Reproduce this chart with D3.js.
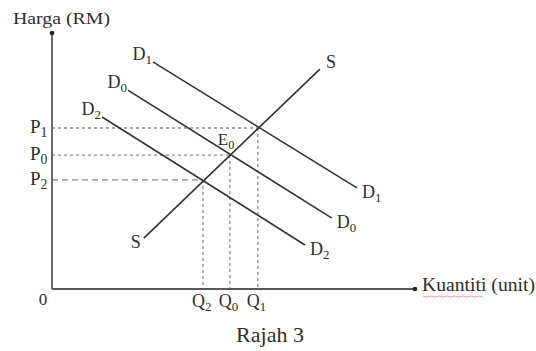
<!DOCTYPE html>
<html><head><meta charset="utf-8">
<script src="https://cdn.jsdelivr.net/npm/d3@7"></script>
<style>
body{margin:0;background:#fff}
svg{display:block}
text{font-family:"Liberation Serif","Times New Roman",serif;fill:#2e2e2e}
</style>
</head><body>
<script>
// ---- data (abstract units: quantity 0-100, price 0-100) ----
const supplyLine  = [[25.3, 19.9], [73.8, 85.9]];
const demandD1    = [[27.8, 88.7], [84.0, 39.5]];
const demandD0    = [[20.9, 77.7], [77.1, 27.7]];
const demandD2    = [[13.8, 67.2], [69.7, 17.2]];
const curveNames  = ["S", "D1", "D0", "D2"];
const priceNames  = ["P1", "P0", "P2"];
const priceValues = [62.9, 52.3, 42.6];
const qtyNames    = ["Q1", "Q0", "Q2"];
const qtyValues   = [56.7, 49.0, 41.6];
const axisTitles  = ["Harga (RM)", "Kuantiti (unit)"];
const caption     = "Rajah 3";
const eqLabel     = "E0";

const W = 536, H = 351;
const svg = d3.select("body").append("svg").attr("width", W).attr("height", H);
const x = d3.scaleLinear().domain([0, 100]).range([52, 415]);
const y = d3.scaleLinear().domain([0, 100]).range([289, 33]);
const ink = "#333", axisInk = "#5a5a5a", guide = "#8a8a8a";

// label with subscript
function subLabel(g, px, py, name, size, anchor, extra) {
  const t = g.append("text").attr("x", px).attr("y", py)
    .attr("font-size", size).attr("text-anchor", anchor || "start");
  t.append("tspan").text(name[0]);
  if (name.length > 1) t.append("tspan").attr("font-size", size * 0.72).attr("dy", size * 0.22).text(name.slice(1));
  if (extra) extra(t);
  return t;
}

// ---- guides ----
const gGuide = svg.append("g");
priceValues.forEach((p, i) => {
  const q = qtyValues[i];
  const dash = i === 2 ? "6,4" : "3,3";
  gGuide.append("line").attr("x1", x(0)).attr("x2", x(q)).attr("y1", y(p)).attr("y2", y(p))
    .attr("stroke", guide).attr("stroke-width", 1.3).attr("stroke-dasharray", dash);
  gGuide.append("line").attr("x1", x(q)).attr("x2", x(q)).attr("y1", y(p)).attr("y2", y(0))
    .attr("stroke", guide).attr("stroke-width", 1.3).attr("stroke-dasharray", "3,3");
});

// ---- axes ----
const line = d3.line().x(d => x(d[0])).y(d => y(d[1]));
svg.append("path").attr("d", line([[0, 0], [0, 100]])).attr("stroke", axisInk).attr("stroke-width", 1.8).attr("fill", "none");
svg.append("path").attr("d", line([[0, 0], [100, 0]])).attr("stroke", axisInk).attr("stroke-width", 2).attr("fill", "none");
svg.append("circle").attr("cx", x(0)).attr("cy", y(100)).attr("r", 2.3).attr("fill", "#222");
svg.append("circle").attr("cx", x(100)).attr("cy", y(0)).attr("r", 2.3).attr("fill", "#222");

// ---- curves ----
const curves = [supplyLine, demandD1, demandD0, demandD2];
curves.forEach(c => {
  svg.append("path").attr("d", line(c)).attr("stroke", ink).attr("stroke-width", 1.6).attr("fill", "none");
});

// curve labels
const gl = svg.append("g");
// supply
subLabel(gl, x(supplyLine[1][0]) + 6, y(supplyLine[1][1]) - 1, curveNames[0], 18, "start");
subLabel(gl, x(supplyLine[0][0]) - 3, y(supplyLine[0][1]) + 10, curveNames[0], 18, "end");
// demand
[demandD1, demandD0, demandD2].forEach((c, i) => {
  subLabel(gl, x(c[0][0]) - 1, y(c[0][1]) - 2, curveNames[i + 1], 18, "end");
  subLabel(gl, x(c[1][0]) + 5, y(c[1][1]) + 10, curveNames[i + 1], 18, "start");
});

// price and quantity labels
priceNames.forEach((n, i) => subLabel(gl, 30, y(priceValues[i]) + 5, n, 19, "start"));
qtyNames.forEach((n, i) => subLabel(gl, x(qtyValues[i]) - 11, 307, n, 18, "start"));
gl.append("text").attr("x", 43).attr("y", 305).attr("font-size", 17).attr("text-anchor", "middle").text("0");

// equilibrium label
subLabel(gl, x(qtyValues[1]) - 12, y(priceValues[1]) - 10, eqLabel, 17, "start");

// axis titles
gl.append("text").attr("x", 13).attr("y", 24).attr("font-size", 16)
  .attr("textLength", 97).attr("lengthAdjust", "spacingAndGlyphs").text(axisTitles[0]);
gl.append("text").attr("x", 422).attr("y", 291).attr("font-size", 18)
  .attr("textLength", 113).attr("lengthAdjust", "spacingAndGlyphs").text(axisTitles[1]);
// spell-check squiggle under "Kuantiti"
svg.append("path")
  .attr("d", d3.range(0, 16).map(i => (i === 0 ? "M" : "L") + (423 + i * 4) + "," + (296 + (i % 2 ? 1.2 : 0))).join(""))
  .attr("stroke", "#e8a0a8").attr("stroke-width", 1).attr("fill", "none");

// caption
gl.append("text").attr("x", 270).attr("y", 342).attr("font-size", 22).attr("text-anchor", "middle").text(caption);
</script>
</body></html>
